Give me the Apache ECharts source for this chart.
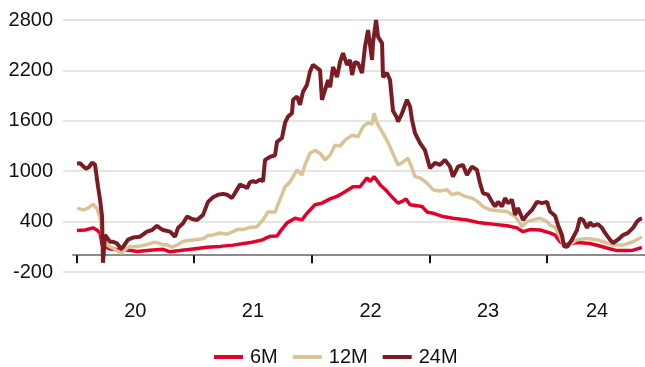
<!DOCTYPE html>
<html>
<head>
<meta charset="utf-8">
<script src="https://cdn.jsdelivr.net/npm/echarts@6/dist/echarts.min.js"></script>
<style>
html,body{margin:0;padding:0;background:#fff;}
#chart{width:645px;height:367px;}
</style>
</head>
<body>
<div id="chart"></div>
<script>
// x values are decimal years
const seriesNames = ['6M', '12M', '24M'];
const yTicks = [-200, 400, 1000, 1600, 2200, 2800];
const yearTicks = [2020, 2021, 2022, 2023, 2024];
const yearLabelPos = [2020.5, 2021.5, 2022.5, 2023.5, 2024.426];
const yearLabels = ['20', '21', '22', '23', '24'];

const data6M = [[2020.004,295],[2020.072,300],[2020.140,325],[2020.174,300],[2020.200,265],[2020.217,125],[2020.242,100],[2020.285,75],[2020.370,65],[2020.455,60],[2020.514,45],[2020.625,60],[2020.736,70],[2020.795,40],[2020.880,55],[2020.991,75],[2021.110,95],[2021.220,105],[2021.331,120],[2021.450,145],[2021.475,150],[2021.560,175],[2021.586,185],[2021.620,210],[2021.645,225],[2021.705,230],[2021.730,280],[2021.790,385],[2021.858,440],[2021.917,420],[2021.960,500],[2022.028,600],[2022.087,620],[2022.156,670],[2022.215,700],[2022.266,740],[2022.351,815],[2022.411,815],[2022.470,920],[2022.496,880],[2022.530,935],[2022.581,840],[2022.640,760],[2022.691,680],[2022.734,620],[2022.768,640],[2022.802,670],[2022.836,600],[2022.895,590],[2022.938,580],[2022.980,515],[2023.031,500],[2023.116,460],[2023.201,440],[2023.320,420],[2023.431,385],[2023.541,370],[2023.661,350],[2023.746,325],[2023.797,280],[2023.856,305],[2023.941,300],[2024.026,265],[2024.069,240],[2024.111,160],[2024.154,125],[2024.256,150],[2024.366,140],[2024.434,115],[2024.511,85],[2024.596,55],[2024.681,55],[2024.732,60],[2024.791,85],[2024.808,90]];

const data12M = [[2020.004,560],[2020.055,540],[2020.098,560],[2020.140,605],[2020.174,560],[2020.200,440],[2020.225,185],[2020.259,125],[2020.285,100],[2020.310,85],[2020.344,50],[2020.387,25],[2020.429,85],[2020.455,100],[2020.497,100],[2020.540,110],[2020.599,125],[2020.650,150],[2020.684,150],[2020.736,125],[2020.770,125],[2020.812,95],[2020.855,120],[2020.906,165],[2020.991,180],[2021.076,195],[2021.118,235],[2021.161,240],[2021.220,265],[2021.280,250],[2021.331,280],[2021.373,310],[2021.416,305],[2021.475,330],[2021.535,340],[2021.586,420],[2021.628,515],[2021.688,515],[2021.730,660],[2021.773,815],[2021.815,870],[2021.875,1015],[2021.917,955],[2021.943,1075],[2021.985,1215],[2022.028,1250],[2022.071,1215],[2022.113,1135],[2022.156,1190],[2022.198,1310],[2022.241,1300],[2022.283,1370],[2022.343,1430],[2022.394,1410],[2022.436,1530],[2022.479,1575],[2022.513,1560],[2022.530,1690],[2022.555,1575],[2022.581,1510],[2022.623,1410],[2022.666,1290],[2022.708,1155],[2022.734,1075],[2022.776,1110],[2022.819,1155],[2022.853,1035],[2022.878,935],[2022.921,920],[2022.980,860],[2023.031,780],[2023.091,765],[2023.150,780],[2023.193,720],[2023.244,740],[2023.303,700],[2023.363,680],[2023.414,635],[2023.456,580],[2023.516,540],[2023.584,530],[2023.661,520],[2023.729,460],[2023.771,380],[2023.788,340],[2023.831,400],[2023.882,420],[2023.941,440],[2024.001,400],[2024.026,360],[2024.069,330],[2024.111,220],[2024.145,100],[2024.179,110],[2024.256,185],[2024.341,200],[2024.426,185],[2024.511,145],[2024.562,120],[2024.647,120],[2024.732,160],[2024.791,205],[2024.808,215]];

const data24M = [[2020.004,1090],[2020.030,1095],[2020.055,1060],[2020.081,1030],[2020.106,1050],[2020.132,1100],[2020.157,1080],[2020.183,815],[2020.200,660],[2020.217,460],[2020.225,-90],[2020.242,240],[2020.259,220],[2020.285,160],[2020.310,160],[2020.344,140],[2020.370,90],[2020.395,95],[2020.438,185],[2020.480,210],[2020.540,220],[2020.599,280],[2020.642,300],[2020.684,350],[2020.710,320],[2020.736,300],[2020.795,280],[2020.838,220],[2020.863,325],[2020.906,380],[2020.940,460],[2020.982,430],[2021.025,420],[2021.076,480],[2021.118,635],[2021.161,690],[2021.203,720],[2021.246,730],[2021.280,720],[2021.322,680],[2021.356,760],[2021.390,840],[2021.424,820],[2021.450,800],[2021.475,870],[2021.501,880],[2021.526,870],[2021.560,900],[2021.586,880],[2021.603,1135],[2021.645,1170],[2021.688,1190],[2021.705,1350],[2021.747,1395],[2021.773,1575],[2021.798,1650],[2021.832,1690],[2021.841,1850],[2021.875,1890],[2021.900,1790],[2021.926,1945],[2021.960,2030],[2021.985,2185],[2022.011,2265],[2022.045,2230],[2022.071,2200],[2022.087,1850],[2022.113,1965],[2022.139,2085],[2022.156,2000],[2022.181,2240],[2022.215,2120],[2022.241,2300],[2022.266,2405],[2022.300,2265],[2022.326,2325],[2022.343,2145],[2022.368,2300],[2022.394,2285],[2022.428,2170],[2022.453,2480],[2022.479,2680],[2022.513,2325],[2022.521,2525],[2022.547,2800],[2022.564,2600],[2022.598,2525],[2022.606,2120],[2022.640,2170],[2022.666,2085],[2022.691,1720],[2022.725,1635],[2022.734,1590],[2022.768,1690],[2022.810,1850],[2022.836,1770],[2022.853,1610],[2022.878,1455],[2022.921,1335],[2022.963,1250],[2023.006,1035],[2023.048,1100],[2023.091,1075],[2023.133,1135],[2023.176,1055],[2023.201,935],[2023.244,1055],[2023.286,1075],[2023.320,955],[2023.363,1055],[2023.405,1015],[2023.431,860],[2023.456,740],[2023.499,720],[2023.533,635],[2023.559,580],[2023.584,635],[2023.618,580],[2023.644,680],[2023.669,620],[2023.703,660],[2023.729,480],[2023.754,560],[2023.797,420],[2023.831,480],[2023.873,540],[2023.916,635],[2023.958,620],[2024.001,635],[2024.026,520],[2024.069,470],[2024.094,360],[2024.128,240],[2024.145,110],[2024.171,100],[2024.213,185],[2024.256,300],[2024.281,440],[2024.307,420],[2024.341,325],[2024.366,390],[2024.392,350],[2024.434,370],[2024.468,325],[2024.494,265],[2024.536,185],[2024.562,145],[2024.604,185],[2024.647,240],[2024.689,265],[2024.732,325],[2024.766,400],[2024.791,430],[2024.808,440]];

const colors = ['#E4002B', '#D9C497', '#7A1C24'];
const widths = [3.5, 3.5, 4];
const allData = [data6M, data12M, data24M];
const FONT = 'Liberation Sans, Arial, sans-serif';

const chart = echarts.init(document.getElementById('chart'), null, {renderer: 'canvas'});
chart.setOption({
  animation: false,
  backgroundColor: '#ffffff',
  grid: [
    {left: 63, right: 0, top: 20, height: 252},
    {left: 73, right: 0, top: 20, height: 252}
  ],
  legend: {
    left: 209, top: 342,
    itemWidth: 29, itemHeight: 4, itemGap: 15,
    icon: 'rect',
    textStyle: {fontFamily: FONT, fontSize: 20, color: '#111', padding: [0, 0, 0, 2]},
    data: seriesNames
  },
  xAxis: [
    {gridIndex: 0, type: 'value', show: false, min: 0, max: 1},
    {
      gridIndex: 1, type: 'value', min: 2019.97, max: 2024.834, offset: 13,
      axisLine: {show: true, lineStyle: {color: '#8c8c8c', width: 2}},
      axisTick: {show: true, length: 8, lineStyle: {color: '#111', width: 2}, customValues: yearTicks},
      axisLabel: {
        show: true, margin: 16, fontFamily: FONT, fontSize: 20, color: '#111',
        customValues: yearLabelPos,
        formatter: function (v) {
          const i = yearLabelPos.indexOf(v);
          return i >= 0 ? yearLabels[i] : '';
        }
      },
      splitLine: {show: false}
    }
  ],
  yAxis: [
    {
      gridIndex: 0, type: 'value', min: yTicks[0], max: yTicks[yTicks.length - 1], interval: 600,
      axisLine: {show: false}, axisTick: {show: false},
      axisLabel: {margin: 10, fontFamily: FONT, fontSize: 20, color: '#111',
        formatter: function (v) { return String(v); }},
      splitLine: {show: true, lineStyle: {color: '#dddddd', width: 1.5}}
    },
    {
      gridIndex: 1, type: 'value', min: yTicks[0], max: yTicks[yTicks.length - 1], show: false,
      splitLine: {show: false}
    }
  ],
  series: seriesNames.map(function (name, i) {
    return {
      name: name, type: 'line', xAxisIndex: 1, yAxisIndex: 1,
      data: allData[i], showSymbol: false, symbol: 'none',
      color: colors[i],
      lineStyle: {color: colors[i], width: widths[i]},
      z: 2 + i
    };
  })
});
</script>
</body>
</html>
